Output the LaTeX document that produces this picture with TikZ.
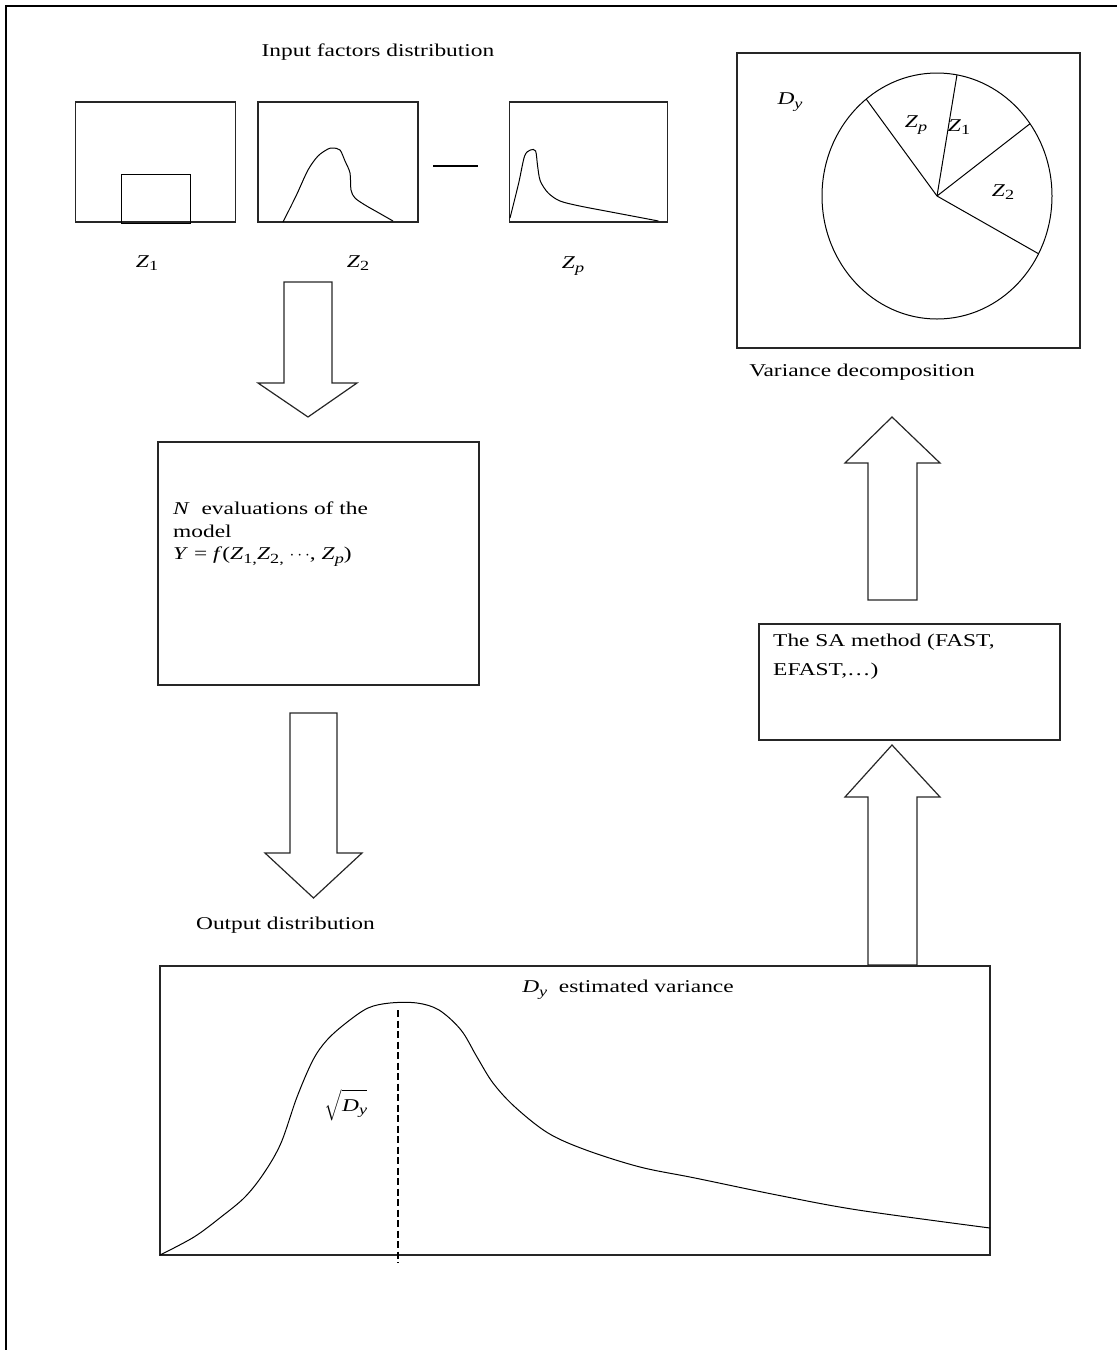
\documentclass[tikz,border=0pt]{standalone}
\usepackage{exscale}
\usepackage{fontspec}
\setmainfont{Liberation Serif}[FakeStretch=1.3]
\usetikzlibrary{calc}
\newcommand{\sbs}[1]{\raisebox{-0.45ex}{\fontsize{14}{14}\selectfont#1}}
\newcommand{\Zone}{\textit{Z}\sbs{1}}
\newcommand{\Ztwo}{\textit{Z}\sbs{2}}
\newcommand{\Zp}{\textit{Z}\sbs{\textit{p}}}
\newcommand{\Dy}{\textit{D}\sbs{\textit{y}}}

\begin{document}
\begin{tikzpicture}[x=1pt,y=-1pt,
  frame/.style={draw=black!85,line width=1.4pt,inner sep=0pt},
  curve/.style={draw=black,line width=1pt},
  fat/.style={draw=black!85,line width=1.2pt,line join=miter},
  lbl/.style={inner sep=0pt,font=\fontsize{18}{22}\selectfont}]
\useasboundingbox (0,0) rectangle (1117,1350);
\draw[line width=1.4pt] (6,1350) -- (6,6) -- (1117,6);

\node[lbl] (title) at (378,52) {Input factors distribution};
\node[frame,minimum width=160,minimum height=120] (fz1) at (155.7,162) {};
\node[frame,minimum width=160,minimum height=120] (fz2) at (337.8,162) {};
\node[frame,minimum width=158,minimum height=120] (fzp) at (588.2,162) {};
\draw[curve] (121,223) rectangle (190,174);
\draw[curve] plot[smooth,tension=0.5] coordinates {(283,222) (296,196) (308,170) (318,156) (328,149) (333,148) (340,150) (345,161) (350,173) (351,190) (355,198) (365,205) (379,213) (393,221)};
\draw[curve] plot[smooth,tension=0.5] coordinates {(510,218) (518.7,183) (524.6,156) (530.5,150) (535.6,151) (537.6,166) (540.3,181) (548.2,193) (560,201) (579.7,206) (611,212) (642.7,218) (658.4,221)};
\draw[line width=2.6pt] (433,166) -- (478,166);
\node[lbl] (lz1) at (147,263) {\Zone};
\node[lbl] (lz2) at (358,263) {\Ztwo};
\node[lbl] (lzp) at (573,266) {\Zp};

\draw[fat] (284,282) -- (332,282) -- (332,383) -- (357,383) -- (308,417) -- (258,383) -- (284,383) -- cycle;

\node[frame,minimum width=321,minimum height=243] (fmodel) at (318.5,563.5) {};
\node[lbl,anchor=north west,align=left,font=\fontsize{18}{22.5}\selectfont] (evaltxt) at (173,502)
  {\textit{N}\ \ evaluations of the\\model\\\textit{Y} = \textit{f}(\textit{Z}\sbs{1,}\textit{Z}\sbs{2,} $\cdots$, \Zp)};

\draw[fat] (290,713) -- (337,713) -- (337,853) -- (362,853) -- (313.5,898) -- (265,853) -- (290,853) -- cycle;
\node[lbl] (outtxt) at (285.5,925) {Output distribution};

\node[frame,minimum width=830,minimum height=289] (fout) at (575,1110.5) {};
\draw[curve] plot[smooth,tension=0.55] coordinates {(160,1255) (194,1237) (221,1217) (245,1197) (264,1173) (281,1143) (297,1097) (313,1060) (327,1040) (346,1023) (368,1008) (390,1003) (417,1003) (439,1010) (461,1030) (477,1057) (493,1083) (515,1107) (548,1133) (586,1150) (640,1167) (695,1178) (777,1195) (858,1210) (990,1228)};
\draw[curve,line width=1.3pt,dash pattern=on 7pt off 3.5pt] (398,1010) -- (398,1263);
\node[lbl] (estvar) at (628,990) {\Dy\ \ estimated variance};
\node[lbl] (sqrtd) at (346,1105) {$\sqrt{\rule[-7pt]{0pt}{24pt}\hbox{\Dy}}$};

\draw[fat] (868,965) -- (917,965) -- (917,797) -- (940,797) -- (892,745) -- (845,797) -- (868,797) -- cycle;
\node[frame,minimum width=301,minimum height=116] (fsa) at (909.5,682) {};
\node[lbl,anchor=north west,align=left,font=\fontsize{18}{29}\selectfont] (satxt) at (773,634)
  {The SA method (FAST,\\EFAST,\dots)};
\draw[fat] (868,600) -- (917,600) -- (917,463) -- (940,463) -- (892,417) -- (845,463) -- (868,463) -- cycle;

\node[frame,minimum width=343,minimum height=295] (fvar) at (908.5,200.5) {};
\coordinate (pc) at (937,196);
\draw[curve] (pc) ellipse [x radius=115,y radius=123];
\foreach \a in {-128,-80,-36,28}
  \draw[curve] (pc) -- ++(\a:115 and 123);
\node[lbl] (ldy) at (790,102) {\Dy};
\node[lbl] (pzp) at (916,125) {\Zp};
\node[lbl] (pz1) at (959,127) {\Zone};
\node[lbl] (pz2) at (1003,192) {\Ztwo};
\node[lbl] (vartxt) at (862,372) {Variance decomposition};
\end{tikzpicture}
\end{document}
